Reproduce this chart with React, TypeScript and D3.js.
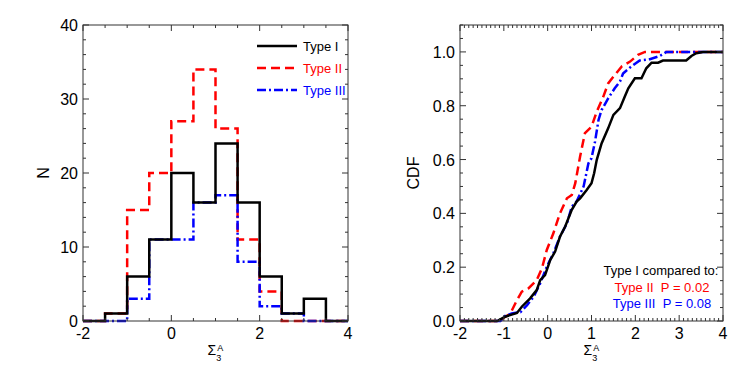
import * as d3 from "d3";

// histogram bins (left edges), width 0.5
const binEdges = [-2, -1.5, -1, -0.5, 0, 0.5, 1, 1.5, 2, 2.5, 3, 3.5, 4];
const histType1 = [0, 1, 6, 11, 20, 16, 24, 16, 6, 1, 3, 0];
const histType2 = [0, 1, 15, 20, 27, 34, 26, 11, 4, 0, 0, 0];
const histType3 = [0, 0, 3, 11, 11, 16, 17, 8, 2, 1, 0, 0];

// cumulative distributions
const cdfX1 = [-2, -1.15, -0.97, -0.7, -0.59, -0.4, -0.25, -0.17, -0.06, 0.06, 0.17, 0.28, 0.4, 0.55, 0.66, 0.74, 0.89, 1.0, 1.06, 1.12, 1.23, 1.38, 1.5, 1.65, 1.76, 1.84, 1.99, 2.14, 2.25, 2.37, 2.52, 2.63, 3.16, 3.28, 3.39, 3.54, 4];
const cdfY1 = [0, 0, 0.016, 0.03, 0.053, 0.084, 0.115, 0.152, 0.171, 0.227, 0.258, 0.313, 0.351, 0.413, 0.444, 0.456, 0.487, 0.512, 0.549, 0.599, 0.66, 0.716, 0.766, 0.791, 0.834, 0.865, 0.902, 0.902, 0.939, 0.96, 0.96, 0.968, 0.968, 0.985, 0.995, 1, 1];
const cdfX2 = [-2, -1.1, -1.0, -0.85, -0.7, -0.59, -0.44, -0.25, -0.13, -0.02, 0.13, 0.28, 0.44, 0.55, 0.63, 0.74, 0.85, 1.0, 1.12, 1.27, 1.38, 1.53, 1.69, 1.88, 2.06, 2.22, 4];
const cdfY2 = [0, 0, 0.012, 0.028, 0.078, 0.109, 0.121, 0.152, 0.196, 0.264, 0.326, 0.4, 0.456, 0.468, 0.512, 0.611, 0.698, 0.722, 0.778, 0.834, 0.883, 0.914, 0.946, 0.964, 0.989, 1, 1];
const cdfX3 = [-2, -1.08, -0.97, -0.82, -0.62, -0.47, -0.32, -0.17, -0.02, 0.13, 0.28, 0.44, 0.55, 0.66, 0.82, 0.93, 1.0, 1.08, 1.16, 1.23, 1.38, 1.53, 1.65, 1.72, 1.91, 2.1, 2.33, 2.56, 2.71, 4];
const cdfY3 = [0, 0, 0.019, 0.028, 0.033, 0.059, 0.09, 0.14, 0.202, 0.252, 0.313, 0.363, 0.425, 0.444, 0.5, 0.586, 0.605, 0.666, 0.747, 0.784, 0.827, 0.865, 0.89, 0.92, 0.946, 0.968, 0.973, 0.985, 1, 1];

const legendNames = ["Type I", "Type II", "Type III"];
const pValues = ["0.02", "0.08"];

const colors = ["#000000", "#ff0000", "#0000ff"];
const dashes = ["none", "9,5", "9,3,2,3"];
const FONT = "'Liberation Sans', Arial, Helvetica, sans-serif";
const FRAME = "#333";

type AxisSpec = { major: number[]; minorStep: number; fmt: (v: number) => string };

function Frame({ x, y, xs, ys }: { x: d3.ScaleLinear<number, number>; y: d3.ScaleLinear<number, number>; xs: AxisSpec; ys: AxisSpec }) {
  const [x0, x1] = x.range();
  const [y0, y1] = y.range();
  const [dx0, dx1] = x.domain();
  const [dy0, dy1] = y.domain();
  const xMinor = d3.range(dx0, dx1 + 1e-9, xs.minorStep);
  const yMinor = d3.range(dy0, dy1 + 1e-9, ys.minorStep);
  const isMajor = (v: number, list: number[]) => list.some(m => Math.abs(m - v) < 1e-6);
  return (
    <g>
      <rect x={x0} y={y1} width={x1 - x0} height={y0 - y1} fill="none" stroke={FRAME} strokeWidth={1} />
      {xMinor.map((v, i) => {
        const len = isMajor(v, xs.major) ? 6 : 3;
        return (
          <g key={"xt" + i} stroke={FRAME} strokeWidth={1}>
            <line x1={x(v)} x2={x(v)} y1={y0} y2={y0 - len} />
            <line x1={x(v)} x2={x(v)} y1={y1} y2={y1 + len} />
          </g>
        );
      })}
      {yMinor.map((v, i) => {
        const len = isMajor(v, ys.major) ? 6 : 3;
        return (
          <g key={"yt" + i} stroke={FRAME} strokeWidth={1}>
            <line x1={x0} x2={x0 + len} y1={y(v)} y2={y(v)} />
            <line x1={x1} x2={x1 - len} y1={y(v)} y2={y(v)} />
          </g>
        );
      })}
      {xs.major.map(v => (
        <text key={"xl" + v} x={x(v)} y={y0 + 18} textAnchor="middle" fontSize={16} fontFamily={FONT}>
          {xs.fmt(v)}
        </text>
      ))}
      {ys.major.map(v => (
        <text key={"yl" + v} x={x0 - 5} y={y(v) + 6} textAnchor="end" fontSize={16} fontFamily={FONT}>
          {ys.fmt(v)}
        </text>
      ))}
      <text x={(x0 + x1) / 2 - 8} y={y0 + 34} fontSize={14} fontFamily={FONT}>
        Σ
        <tspan fontSize={9} dx={0} dy={6}>3</tspan>
        <tspan fontSize={9} dx={-4} dy={-10}>A</tspan>
      </text>
    </g>
  );
}

export default function App() {
  const top = 25;
  const bottom = 321;

  // left panel
  const xL = d3.scaleLinear().domain([-2, 4]).range([83, 348]);
  const yL = d3.scaleLinear().domain([0, 40]).range([bottom, top]);
  const hists = [histType1, histType2, histType3];
  const stepLine = d3
    .line<[number, number]>()
    .x(d => xL(d[0]))
    .y(d => yL(d[1]))
    .curve(d3.curveStepAfter);
  const histPaths = hists.map(h => stepLine(binEdges.map((e, i) => [e, h[Math.min(i, h.length - 1)]] as [number, number])));

  // right panel
  const xR = d3.scaleLinear().domain([-2, 4]).range([460, 723]);
  const yR = d3.scaleLinear().domain([0, 1.1]).range([bottom, top]);
  const cdfLine = d3
    .line<[number, number]>()
    .x(d => xR(d[0]))
    .y(d => yR(d[1]));
  const cdfs = [
    d3.zip(cdfX1, cdfY1),
    d3.zip(cdfX2, cdfY2),
    d3.zip(cdfX3, cdfY3),
  ] as [number, number][][];
  const cdfPaths = cdfs.map(c => cdfLine(c));

  const drawOrder = [1, 2, 0];

  return (
    <svg width={747} height={374} style={{ position: "absolute", left: 0, top: 0, background: "#fff" }}>
      {/* left: histogram */}
      {drawOrder.map(i => (
        <path key={"h" + i} d={histPaths[i] ?? ""} fill="none" stroke={colors[i]} strokeWidth={2.5} strokeDasharray={dashes[i]} />
      ))}
      <Frame
        x={xL}
        y={yL}
        xs={{ major: [-2, 0, 2, 4], minorStep: 0.5, fmt: v => String(v) }}
        ys={{ major: [0, 10, 20, 30, 40], minorStep: 2, fmt: v => String(v) }}
      />
      <text transform={`translate(48.5,${(top + bottom) / 2}) rotate(-90)`} textAnchor="middle" fontSize={16} fontFamily={FONT}>
        N
      </text>
      {legendNames.map((n, i) => (
        <g key={"lg" + i}>
          <line x1={257} x2={297} y1={46 + i * 22} y2={46 + i * 22} stroke={colors[i]} strokeWidth={2.5} strokeDasharray={dashes[i]} />
          <text x={303} y={51 + i * 22} fontSize={13} fontFamily={FONT} fill={colors[i]}>
            {n}
          </text>
        </g>
      ))}

      {/* right: CDF */}
      {drawOrder.map(i => (
        <path key={"c" + i} d={cdfPaths[i] ?? ""} fill="none" stroke={colors[i]} strokeWidth={2.5} strokeDasharray={dashes[i]} />
      ))}
      <Frame
        x={xR}
        y={yR}
        xs={{ major: [-2, -1, 0, 1, 2, 3, 4], minorStep: 0.1, fmt: v => String(v) }}
        ys={{ major: [0, 0.2, 0.4, 0.6, 0.8, 1.0], minorStep: 0.05, fmt: v => v.toFixed(1) }}
      />
      <text transform={`translate(419,${(top + bottom) / 2}) rotate(-90)`} textAnchor="middle" fontSize={16} fontFamily={FONT}>
        CDF
      </text>
      <text x={661} y={275} textAnchor="middle" fontSize={13} fontFamily={FONT}>
        {legendNames[0]} compared to:
      </text>
      {pValues.map((p, i) => (
        <text key={"p" + i} x={662} y={292 + i * 16} textAnchor="middle" fontSize={13} fontFamily={FONT} fill={colors[i + 1]} style={{ whiteSpace: "pre" }}>
          {`${legendNames[i + 1]}  P = ${p}`}
        </text>
      ))}
    </svg>
  );
}
